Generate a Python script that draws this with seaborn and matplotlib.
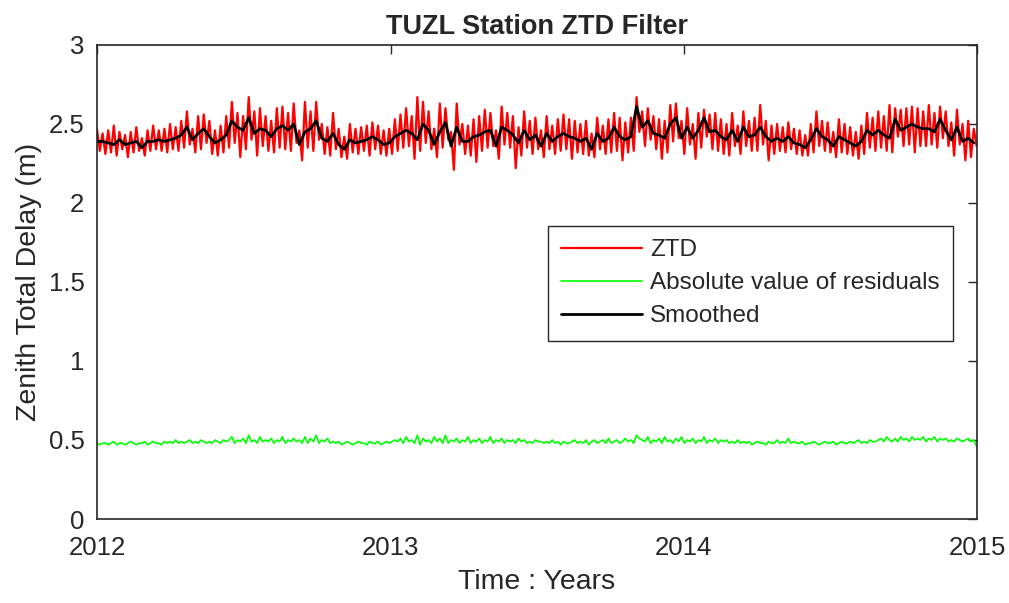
import pandas as pd
import seaborn as sns
import matplotlib.pyplot as plt
import matplotlib.dates as mdates

# Smoothed ZTD, one value per week (m)
smoothed = [
    2.39, 2.39, 2.38, 2.37, 2.40, 2.37, 2.38, 2.39, 2.35, 2.39,
    2.39, 2.40, 2.39, 2.40, 2.41, 2.43, 2.48, 2.40, 2.44, 2.47,
    2.42, 2.38, 2.40, 2.43, 2.52, 2.48, 2.46, 2.54, 2.44, 2.47,
    2.46, 2.42, 2.47, 2.49, 2.46, 2.50, 2.37, 2.45, 2.47, 2.52,
    2.41, 2.39, 2.44, 2.37, 2.34, 2.40, 2.38, 2.39, 2.40, 2.42,
    2.40, 2.37, 2.38, 2.42, 2.44, 2.46, 2.44, 2.40, 2.50, 2.46,
    2.37, 2.45, 2.51, 2.36, 2.48, 2.39, 2.39, 2.42, 2.43, 2.45,
    2.46, 2.36, 2.48, 2.46, 2.43, 2.38, 2.46, 2.40, 2.43, 2.36,
    2.44, 2.39, 2.42, 2.44, 2.42, 2.41, 2.39, 2.41, 2.34, 2.44,
    2.39, 2.41, 2.48, 2.42, 2.40, 2.42, 2.61, 2.48, 2.52, 2.44,
    2.43, 2.41, 2.50, 2.54, 2.41, 2.48, 2.41, 2.46, 2.54, 2.45,
    2.46, 2.42, 2.40, 2.46, 2.39, 2.48, 2.42, 2.43, 2.48, 2.42,
    2.39, 2.41, 2.39, 2.42, 2.38, 2.37, 2.35, 2.40, 2.47, 2.42,
    2.40, 2.36, 2.42, 2.40, 2.38, 2.36, 2.39, 2.46, 2.43, 2.46,
    2.43, 2.41, 2.53, 2.46, 2.48, 2.50, 2.48, 2.47, 2.47, 2.45,
    2.53, 2.46, 2.40, 2.48, 2.39, 2.41, 2.38,
]

# Raw ZTD, two values per week (m)
ztd = [
    2.47, 2.33, 2.44, 2.31, 2.46, 2.32, 2.49, 2.30, 2.45, 2.34,
    2.43, 2.29, 2.45, 2.32, 2.48, 2.33, 2.41, 2.30, 2.46, 2.33,
    2.49, 2.34, 2.46, 2.33, 2.47, 2.32, 2.50, 2.34, 2.48, 2.33,
    2.52, 2.35, 2.58, 2.37, 2.47, 2.32, 2.55, 2.34, 2.56, 2.38,
    2.52, 2.31, 2.46, 2.30, 2.49, 2.32, 2.55, 2.35, 2.64, 2.38,
    2.57, 2.29, 2.55, 2.34, 2.67, 2.40, 2.58, 2.30, 2.60, 2.36,
    2.55, 2.33, 2.52, 2.32, 2.60, 2.35, 2.61, 2.34, 2.57, 2.33,
    2.63, 2.38, 2.46, 2.27, 2.64, 2.35, 2.58, 2.33, 2.64, 2.40,
    2.50, 2.31, 2.48, 2.30, 2.57, 2.34, 2.47, 2.29, 2.42, 2.28,
    2.50, 2.32, 2.47, 2.31, 2.48, 2.33, 2.49, 2.30, 2.51, 2.34,
    2.49, 2.31, 2.46, 2.30, 2.47, 2.31, 2.53, 2.33, 2.56, 2.35,
    2.60, 2.36, 2.55, 2.28, 2.67, 2.33, 2.64, 2.38, 2.58, 2.34,
    2.47, 2.29, 2.63, 2.35, 2.60, 2.40, 2.45, 2.21, 2.63, 2.37,
    2.50, 2.31, 2.49, 2.30, 2.53, 2.26, 2.55, 2.33, 2.59, 2.35,
    2.57, 2.36, 2.46, 2.28, 2.61, 2.37, 2.57, 2.35, 2.55, 2.22,
    2.48, 2.30, 2.58, 2.35, 2.52, 2.31, 2.54, 2.34, 2.46, 2.29,
    2.55, 2.34, 2.49, 2.31, 2.53, 2.33, 2.56, 2.34, 2.53, 2.28,
    2.52, 2.32, 2.50, 2.31, 2.52, 2.30, 2.44, 2.29, 2.54, 2.34,
    2.49, 2.31, 2.53, 2.32, 2.57, 2.33, 2.54, 2.27, 2.51, 2.32,
    2.54, 2.33, 2.67, 2.45, 2.58, 2.36, 2.60, 2.40, 2.55, 2.34,
    2.53, 2.28, 2.52, 2.32, 2.62, 2.39, 2.63, 2.41, 2.52, 2.31,
    2.60, 2.37, 2.50, 2.28, 2.57, 2.35, 2.59, 2.42, 2.56, 2.34,
    2.57, 2.33, 2.53, 2.31, 2.50, 2.30, 2.57, 2.36, 2.49, 2.31,
    2.58, 2.36, 2.52, 2.33, 2.54, 2.33, 2.62, 2.37, 2.52, 2.27,
    2.49, 2.31, 2.50, 2.33, 2.48, 2.32, 2.51, 2.34, 2.47, 2.31,
    2.46, 2.30, 2.43, 2.30, 2.50, 2.32, 2.58, 2.36, 2.52, 2.33,
    2.51, 2.32, 2.45, 2.29, 2.53, 2.32, 2.50, 2.31, 2.48, 2.30,
    2.45, 2.28, 2.49, 2.31, 2.57, 2.35, 2.54, 2.33, 2.58, 2.35,
    2.55, 2.33, 2.62, 2.32, 2.60, 2.42, 2.59, 2.36, 2.60, 2.37,
    2.61, 2.32, 2.60, 2.36, 2.58, 2.36, 2.62, 2.37, 2.57, 2.35,
    2.61, 2.41, 2.58, 2.36, 2.51, 2.30, 2.59, 2.37, 2.50, 2.27,
    2.52, 2.29, 2.47, 2.36,
]

# Absolute value of residuals, two values per week
residuals = [
    0.48, 0.47, 0.48, 0.48, 0.47, 0.48, 0.49, 0.47, 0.48, 0.48,
    0.47, 0.48, 0.49, 0.48, 0.47, 0.48, 0.48, 0.49, 0.47, 0.48,
    0.49, 0.48, 0.48, 0.47, 0.49, 0.48, 0.49, 0.48, 0.50, 0.48,
    0.49, 0.48, 0.49, 0.50, 0.48, 0.49, 0.48, 0.50, 0.49, 0.48,
    0.49, 0.48, 0.50, 0.49, 0.48, 0.50, 0.49, 0.50,
    0.52, 0.48, 0.50, 0.49, 0.51, 0.48, 0.53, 0.49, 0.50, 0.48,
    0.52, 0.49, 0.50, 0.49, 0.51, 0.48, 0.50, 0.49, 0.52, 0.48,
    0.50, 0.49, 0.51, 0.49, 0.50, 0.48, 0.52, 0.48, 0.51, 0.49,
    0.53, 0.48, 0.50, 0.49, 0.51, 0.48,
    0.49, 0.48, 0.49, 0.47, 0.48, 0.49, 0.48, 0.47, 0.48, 0.49,
    0.48, 0.48, 0.47, 0.49, 0.48, 0.48, 0.49, 0.47, 0.48, 0.49,
    0.48, 0.49,
    0.50, 0.49, 0.51, 0.48, 0.52, 0.49, 0.50, 0.48, 0.53, 0.47,
    0.51, 0.49, 0.50, 0.48, 0.52, 0.49, 0.51, 0.48, 0.53, 0.48,
    0.50, 0.49, 0.51, 0.48, 0.50, 0.49, 0.52, 0.48,
    0.50, 0.49, 0.51, 0.48, 0.50, 0.49, 0.52, 0.48, 0.50, 0.49,
    0.51, 0.48, 0.50, 0.49, 0.50, 0.48, 0.51, 0.49, 0.50, 0.48,
    0.49, 0.48, 0.50, 0.49, 0.49, 0.48,
    0.49, 0.48, 0.50, 0.48, 0.49, 0.47, 0.49, 0.48, 0.48, 0.49,
    0.50, 0.48, 0.49, 0.48, 0.50, 0.47, 0.49, 0.50, 0.48, 0.49,
    0.50, 0.48, 0.51, 0.48, 0.49, 0.50, 0.48, 0.49, 0.51, 0.49,
    0.50, 0.48,
    0.53, 0.51, 0.50, 0.49, 0.52, 0.48, 0.50, 0.49, 0.51, 0.48,
    0.52, 0.49, 0.50, 0.48, 0.51, 0.49, 0.52, 0.48, 0.50, 0.49,
    0.51, 0.48, 0.50, 0.49, 0.52, 0.48, 0.50, 0.49, 0.51, 0.48,
    0.50, 0.49, 0.50, 0.48, 0.49, 0.48, 0.50, 0.48,
    0.49, 0.48, 0.49, 0.47, 0.48, 0.49, 0.48, 0.48, 0.47, 0.49,
    0.48, 0.48, 0.50, 0.48, 0.49, 0.48, 0.51, 0.48, 0.49, 0.48,
    0.48, 0.49, 0.47, 0.48, 0.48, 0.49, 0.48, 0.47, 0.48, 0.49,
    0.48, 0.48, 0.49, 0.47, 0.48, 0.49, 0.48, 0.48, 0.49, 0.48,
    0.49, 0.50, 0.48, 0.49, 0.48, 0.50, 0.49, 0.49,
    0.50, 0.51, 0.49, 0.52, 0.50, 0.49, 0.51, 0.49, 0.52, 0.50,
    0.51, 0.49, 0.52, 0.50, 0.51, 0.50, 0.52, 0.49, 0.51, 0.50,
    0.52, 0.49, 0.51, 0.50, 0.51, 0.49, 0.50, 0.49, 0.51, 0.50,
    0.49, 0.50, 0.51, 0.49, 0.50, 0.46,
]

start = pd.Timestamp("2012-01-01")
df_raw = pd.DataFrame({
    "date": pd.date_range(start, periods=len(ztd), freq="84h"),
    "ztd": ztd,
})
df_res = pd.DataFrame({
    "date": pd.date_range(start, periods=len(residuals), freq="84h"),
    "res": residuals,
})
df_smooth = pd.DataFrame({
    "date": pd.date_range(start, periods=len(smoothed), freq="7D"),
    "smooth": smoothed,
})

sns.set_style("white")
plt.rcParams["font.family"] = ["Liberation Sans", "DejaVu Sans"]
axis_col = "#262626"

fig = plt.figure(figsize=(10.09, 6.03), dpi=100)
ax = fig.add_axes([0.0961, 0.1393, 0.8722, 0.7861])

sns.lineplot(data=df_raw, x="date", y="ztd", color="#ff0000", lw=1.6, label="ZTD", ax=ax)
sns.lineplot(data=df_res, x="date", y="res", color="#00ff00", lw=1.2,
             label="Absolute value of residuals", ax=ax)
sns.lineplot(data=df_smooth, x="date", y="smooth", color="black", lw=2.0, label="Smoothed", ax=ax)

ax.set_xlim(pd.Timestamp("2012-01-01"), pd.Timestamp("2015-01-01"))
ax.set_ylim(0, 3)
ax.set_yticks([0, 0.5, 1, 1.5, 2, 2.5, 3])
ax.set_yticklabels(["0", "0.5", "1", "1.5", "2", "2.5", "3"])
ax.xaxis.set_major_locator(mdates.YearLocator())
ax.xaxis.set_major_formatter(mdates.DateFormatter("%Y"))

ax.tick_params(direction="in", length=6.5, width=1.0, colors=axis_col, labelsize=18.5,
               top=True, right=True)
ax.tick_params(axis="x", pad=12)
ax.tick_params(axis="y", pad=9)
for sp in ax.spines.values():
    sp.set_color(axis_col)
    sp.set_linewidth(1.2)

ax.set_xlabel("Time : Years", fontsize=20.5, color=axis_col, labelpad=7)
ax.set_ylabel("Zenith Total Delay (m)", fontsize=20.5, color=axis_col, labelpad=5)
ax.set_title("TUZL Station ZTD Filter", fontsize=19.5, fontweight="bold", pad=8)

leg = ax.legend(loc="upper left", bbox_to_anchor=(0.5125, 0.618), borderaxespad=0,
                fontsize=17.5, frameon=True, fancybox=False, handlelength=3.3,
                labelspacing=0.45, borderpad=0.55, handletextpad=0.35)
leg.get_frame().set_edgecolor(axis_col)
leg.get_frame().set_linewidth(1.0)
leg.get_frame().set_alpha(1)

fig.savefig("out.png", dpi=100)
